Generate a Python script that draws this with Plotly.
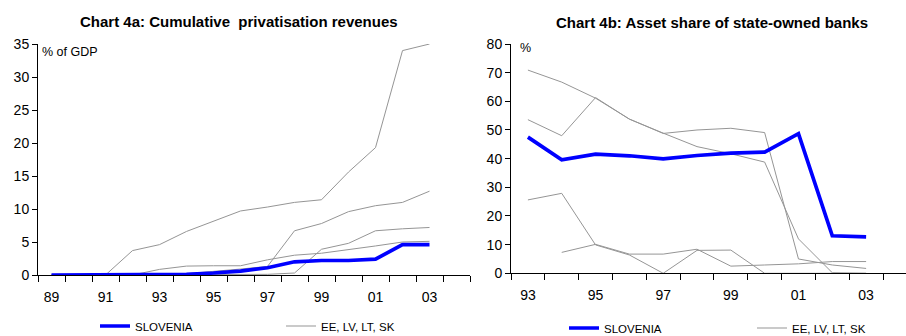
import plotly.graph_objects as go

W, H = 906, 336

# ---------------- Chart 4a data ----------------
years_a = ["89", "90", "91", "92", "93", "94", "95", "96", "97", "98", "99", "00", "01", "02", "03", "04"]
slovenia_a = [0, 0, 0, 0, 0, 0.1, 0.3, 0.6, 1.1, 2.0, 2.2, 2.2, 2.4, 4.6, 4.6, None]
baltic_a1 = [0, 0, 0, 3.7, 4.6, 6.6, 8.2, 9.7, 10.3, 11.0, 11.4, 15.6, 19.3, 34.0, 35.0, None]
baltic_a2 = [0, 0, 0, 0, 0, 0.2, 0.5, 0.9, 1.3, 6.7, 7.8, 9.6, 10.5, 11.0, 12.7, None]
baltic_a3 = [0, 0, 0, 0, 0.85, 1.35, 1.4, 1.4, 2.3, 3.0, 3.3, 3.8, 4.4, 5.0, 5.1, None]
baltic_a4 = [0, 0, 0, 0, 0, 0, 0, 0, 0.1, 0.3, 3.9, 4.8, 6.7, 7.0, 7.2, None]

# ---------------- Chart 4b data ----------------
years_b = ["93", "94", "95", "96", "97", "98", "99", "00", "01", "02", "03", "04"]
slovenia_b = [47.5, 39.6, 41.6, 41.0, 39.9, 41.1, 41.9, 42.3, 48.7, 13.1, 12.7, None]
baltic_b1 = [70.9, 66.7, 61.1, 53.8, 48.9, 44.2, 41.7, 38.8, 12.0, 0.2, 0.0, None]
baltic_b2 = [53.6, 48.0, 61.3, 53.8, 48.8, 50.0, 50.6, 49.1, 5.0, 2.9, 1.7, None]
baltic_b3 = [25.6, 27.9, 9.9, 6.4, 0.0, 8.0, 8.1, 0.0, 0.0, 0.0, 0.0, None]
baltic_b4 = [None, 7.3, 10.1, 6.7, 6.7, 8.4, 2.5, 2.9, 3.3, 4.1, 4.1, None]

label_a = ["89", "91", "93", "95", "97", "99", "01", "03"]
label_b = ["93", "95", "97", "99", "01", "03"]

BLUE = "#0000FF"
GRAY = "#959595"
FONT = "Arial, Liberation Sans, sans-serif"

xa = list(range(len(years_a)))
xb = list(range(len(years_b)))

fig = go.Figure()

def add_gray(x, ys, xaxis, yaxis, legend, name):
    for i, y in enumerate(ys):
        fig.add_trace(go.Scatter(
            x=x, y=y, mode="lines", name=name,
            line=dict(color=GRAY, width=1),
            xaxis=xaxis, yaxis=yaxis, legend=legend,
            showlegend=(i == 0), connectgaps=False, hoverinfo="skip"))

add_gray(xa, [baltic_a1, baltic_a2, baltic_a3, baltic_a4], "x", "y", "legend2", "EE, LV, LT, SK")
fig.add_trace(go.Scatter(x=xa, y=slovenia_a, mode="lines", name="SLOVENIA",
                         line=dict(color=BLUE, width=3.7), xaxis="x", yaxis="y",
                         legend="legend"))
add_gray(xb, [baltic_b1, baltic_b2, baltic_b3, baltic_b4], "x2", "y2", "legend4", "EE, LV, LT, SK")
fig.add_trace(go.Scatter(x=xb, y=slovenia_b, mode="lines", name="SLOVENIA",
                         line=dict(color=BLUE, width=3.7), xaxis="x2", yaxis="y2",
                         legend="legend3"))

def px_x(p):
    return p / W

def px_y(p):
    return 1 - p / H

tickfont = dict(family=FONT, size=14, color="black")

xcommon = dict(
    showgrid=False, zeroline=False, showline=True, linecolor="black", linewidth=1,
    ticks="outside", ticklen=9, tickcolor="rgba(0,0,0,0)", tickfont=tickfont,
    tickmode="array",
    minor=dict(tickmode="linear", tick0=-0.5, dtick=1, ticks="outside", ticklen=6,
               tickcolor="black", tickwidth=1, showgrid=False),
    fixedrange=True,
)
ycommon = dict(
    showgrid=False, zeroline=False, showline=True, linecolor="black", linewidth=1,
    ticks="outside", ticklen=5, tickcolor="black", tickfont=tickfont, fixedrange=True,
)

fig.update_layout(
    width=W, height=H,
    margin=dict(l=0, r=0, t=0, b=0, autoexpand=False),
    paper_bgcolor="white", plot_bgcolor="white",
    font=dict(family=FONT, color="black"),
    xaxis=dict(xcommon, domain=[px_x(38), px_x(470)], range=[-0.5, 15.5],
               tickvals=[years_a.index(t) for t in label_a], ticktext=label_a, anchor="y"),
    yaxis=dict(ycommon, domain=[px_y(275), px_y(44)], range=[0, 35], dtick=5, anchor="x"),
    xaxis2=dict(xcommon, domain=[px_x(511), 1], range=[-0.5, -0.5 + (906 - 511) / 33.82],
                tickvals=[years_b.index(t) for t in label_b], ticktext=label_b, anchor="y2"),
    yaxis2=dict(ycommon, domain=[px_y(273.3), px_y(44)], range=[0, 80], dtick=10, anchor="x2"),
    showlegend=True,
)

legend_style = dict(orientation="h", xref="container", yref="container",
                    xanchor="left", yanchor="middle", bgcolor="rgba(0,0,0,0)",
                    font=dict(family=FONT, size=11.5, color="black"), itemwidth=30,
                    borderwidth=0)
fig.update_layout(
    legend=dict(legend_style, x=px_x(95), y=px_y(326)),
    legend2=dict(legend_style, x=px_x(281), y=px_y(326)),
    legend3=dict(legend_style, x=px_x(564), y=px_y(328)),
    legend4=dict(legend_style, x=px_x(752), y=px_y(328)),
)

fig.add_annotation(text="<b>Chart 4a: Cumulative  privatisation revenues</b>",
                   xref="paper", yref="paper", x=px_x(239), y=px_y(22),
                   xanchor="center", yanchor="middle", showarrow=False,
                   font=dict(family=FONT, size=15, color="black"))
fig.add_annotation(text="<b>Chart 4b: Asset share of state-owned banks</b>",
                   xref="paper", yref="paper", x=px_x(712), y=px_y(23),
                   xanchor="center", yanchor="middle", showarrow=False,
                   font=dict(family=FONT, size=15, color="black"))
fig.add_annotation(text="% of GDP", xref="paper", yref="paper", x=px_x(40), y=px_y(52),
                   xanchor="left", yanchor="middle", showarrow=False,
                   font=dict(family=FONT, size=12.5, color="black"))
fig.add_annotation(text="%", xref="paper", yref="paper", x=px_x(518), y=px_y(48),
                   xanchor="left", yanchor="middle", showarrow=False,
                   font=dict(family=FONT, size=12.5, color="black"))

fig.write_html("out.html",
               config={"displayModeBar": False, "staticPlot": True},
               post_script="document.body.style.margin='0';document.body.style.overflow='hidden';")
